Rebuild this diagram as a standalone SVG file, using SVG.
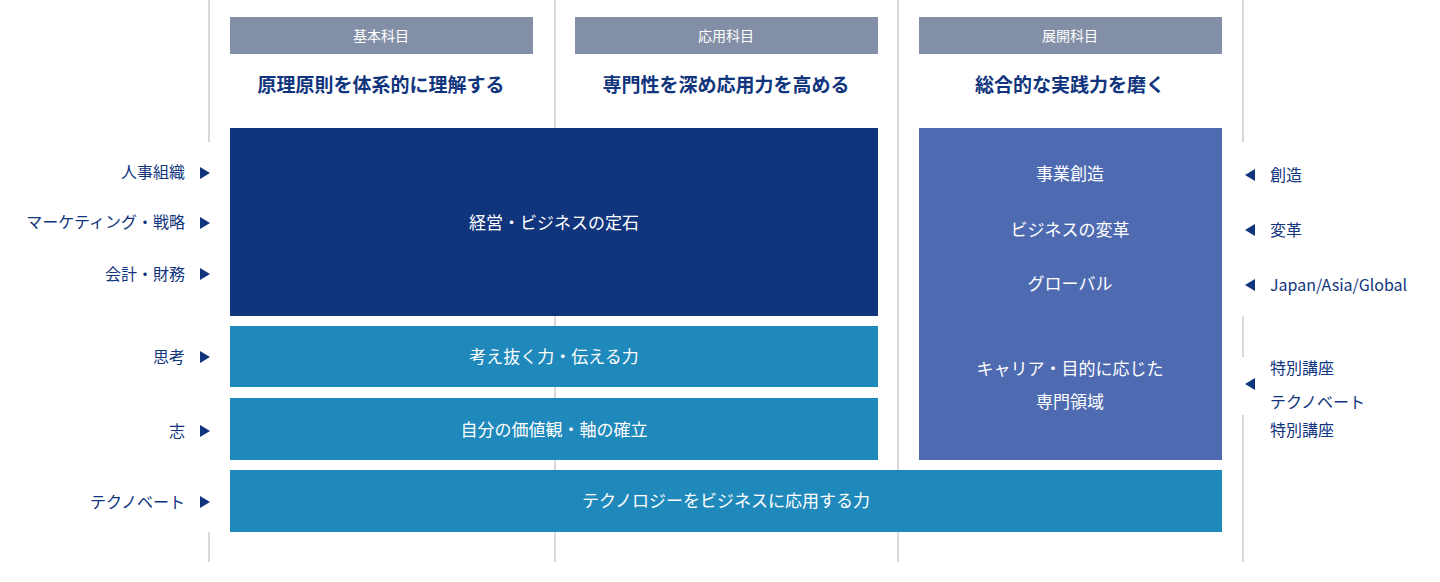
<svg xmlns="http://www.w3.org/2000/svg" width="1440" height="582" viewBox="0 0 1440 582">
<style>
text{font-family:"Noto Sans CJK JP","Noto Sans",sans-serif}
.g{stroke:#cccccc;stroke-width:1.5}
.hd{fill:#838fa7}
.ht{fill:#fff;font-size:14px;text-anchor:middle}
.tt{fill:#10357d;font-size:19px;font-weight:bold;text-anchor:middle}
.w{fill:#fff;font-size:17px;text-anchor:middle}
.l{fill:#10357d;font-size:16px;text-anchor:end}
.r{fill:#10357d;font-size:16px}
.tri{fill:#10357d}
</style>
<g id="grid">
<line class="g" x1="209" y1="0" x2="209" y2="142"/>
<line class="g" x1="209" y1="532" x2="209" y2="562"/>
<line class="g" x1="555" y1="0" x2="555" y2="562"/>
<line class="g" x1="898" y1="0" x2="898" y2="562"/>
<line class="g" x1="1243" y1="0" x2="1243" y2="142"/>
<line class="g" x1="1243" y1="316" x2="1243" y2="357"/>
<line class="g" x1="1243" y1="415" x2="1243" y2="562"/>
</g>
<g id="h1"><rect class="hd" x="230" y="17" width="303" height="37"/><text class="ht" x="381" y="41">基本科目</text><text class="tt" x="381" y="92">原理原則を体系的に理解する</text></g>
<g id="h2"><rect class="hd" x="575" y="17" width="303" height="37"/><text class="ht" x="726" y="41">応用科目</text><text class="tt" x="726" y="92">専門性を深め応用力を高める</text></g>
<g id="h3"><rect class="hd" x="919" y="17" width="303" height="37"/><text class="ht" x="1070" y="41">展開科目</text><text class="tt" x="1070" y="92">総合的な実践力を磨く</text></g>
<g id="n1"><rect x="230" y="128" width="648" height="188" fill="#10357d"/><text class="w" x="554" y="229">経営・ビジネスの定石</text></g>
<g id="n2"><rect x="230" y="326" width="648" height="61" fill="#2089bb"/><text class="w" x="554" y="363">考え抜く力・伝える力</text></g>
<g id="n3"><rect x="230" y="398" width="648" height="62" fill="#2089bb"/><text class="w" x="554" y="436">自分の価値観・軸の確立</text></g>
<g id="n4"><rect x="919" y="128" width="303" height="332" fill="#4e6bb2"/>
<text class="w" x="1070" y="180">事業創造</text><text class="w" x="1070" y="236">ビジネスの変革</text><text class="w" x="1070" y="290">グローバル</text><text class="w" x="1070" y="375">キャリア・目的に応じた</text><text class="w" x="1070" y="408">専門領域</text></g>
<g id="n5"><rect x="230" y="470" width="992" height="62" fill="#2089bb"/><text class="w" x="726" y="507">テクノロジーをビジネスに応用する力</text></g>
<g id="left">
<text class="l" x="185" y="178">人事組織</text><polygon class="tri" points="200,167 210,173 200,179"/>
<text class="l" x="185" y="228">マーケティング・戦略</text><polygon class="tri" points="200,217 210,223 200,229"/>
<text class="l" x="185" y="280">会計・財務</text><polygon class="tri" points="200,268 210,274 200,280"/>
<text class="l" x="185" y="363">思考</text><polygon class="tri" points="200,351 210,357 200,363"/>
<text class="l" x="185" y="437">志</text><polygon class="tri" points="200,425 210,431 200,437"/>
<text class="l" x="185" y="508">テクノベート</text><polygon class="tri" points="200,496 210,502 200,508"/>
</g>
<g id="right">
<polygon class="tri" points="1255,169 1245,175 1255,181"/><text class="r" x="1270" y="181">創造</text>
<polygon class="tri" points="1255,224 1245,230 1255,236"/><text class="r" x="1270" y="236">変革</text>
<polygon class="tri" points="1255,279 1245,285 1255,291"/><text class="r" x="1270" y="291">Japan/Asia/Global</text>
<polygon class="tri" points="1255,378 1245,384 1255,390"/>
<text class="r" x="1270" y="374">特別講座</text><text class="r" x="1270" y="408">テクノベート</text><text class="r" x="1270" y="436">特別講座</text>
</g>
</svg>
